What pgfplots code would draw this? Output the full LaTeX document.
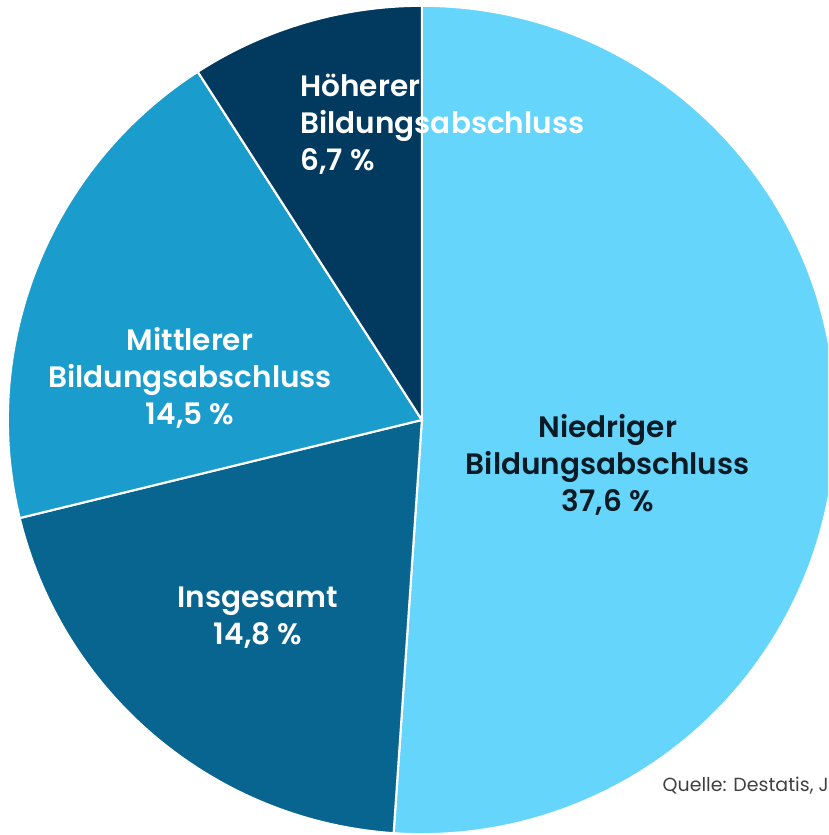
\documentclass[border=0pt]{standalone}
\usepackage{pgfplots}
\usepackage{pgfplotstable}
\pgfplotsset{compat=1.18}
\usepackage{fontspec}
\setmainfont{Poppins}[BoldFont={Poppins SemiBold}]

\definecolor{cNied}{HTML}{66D5FB}
\definecolor{cIns}{HTML}{08658F}
\definecolor{cMit}{HTML}{1A9DCD}
\definecolor{cHoe}{HTML}{013A5E}
\definecolor{txtdark}{HTML}{0B1B26}

% share of each group, clockwise from 12 o'clock
\pgfplotstableread{
value colour
37.6 cNied
14.8 cIns
14.5 cMit
6.7 cHoe
}\piedata

\begin{document}
\begin{tikzpicture}
\begin{axis}[
    hide axis,
    scale only axis,
    width=8.28cm,
    height=8.35cm,
    xmin=-1.019, xmax=0.981,
    ymin=-1.002, ymax=1.014,
    clip=true,
]
\pgfplotstablegetrowsof{\piedata}
\pgfmathtruncatemacro\lastrow{\pgfplotsretval-1}
\def\total{0}
\pgfplotsforeachungrouped \i in {0,...,\lastrow}{%
    \pgfplotstablegetelem{\i}{value}\of\piedata
    \pgfmathsetmacro\total{\total+\pgfplotsretval}%
}
\def\angstart{90}
\pgfplotsforeachungrouped \i in {0,...,\lastrow}{%
    \pgfplotstablegetelem{\i}{value}\of\piedata \let\v\pgfplotsretval
    \pgfplotstablegetelem{\i}{colour}\of\piedata \let\c\pgfplotsretval
    \pgfmathsetmacro\angend{\angstart-\v/\total*360}%
    \edef\cmd{\noexpand\fill[\c, draw=white, line width=0.6pt]
        (axis cs:0,0) -- (axis cs:{cos(\angstart)},{sin(\angstart)})
        arc[start angle=\angstart, end angle=\angend, radius=1] -- cycle;}%
    \cmd
    \let\angstart\angend
}

\tikzset{lbl/.style={align=center, font=\bfseries\fontsize{8.4}{10.5}\selectfont}}
\node[lbl, align=left, anchor=west, inner sep=0pt, text=white]
    at (axis cs:-0.295,0.713) {Höherer\\Bildungsabschluss\\6,7 \%};
\node[lbl, text=white]
    at (axis cs:-0.560,0.101) {Mittlerer\\Bildungsabschluss\\14,5 \%};
\node[lbl, text=txtdark]
    at (axis cs:0.449,-0.109) {Niedriger\\Bildungsabschluss\\37,6 \%};
\node[lbl, text=white]
    at (axis cs:-0.396,-0.478) {Insgesamt\\14,8 \%};
\node[anchor=west, inner sep=0pt, text=black!75, font=\fontsize{5.4}{6.5}\selectfont]
    at (axis cs:0.580,-0.882) {Quelle: Destatis, Juni 2023};
\end{axis}
\pgfresetboundingbox
\useasboundingbox (current axis.south west) rectangle (current axis.north east);
\end{tikzpicture}
\end{document}
